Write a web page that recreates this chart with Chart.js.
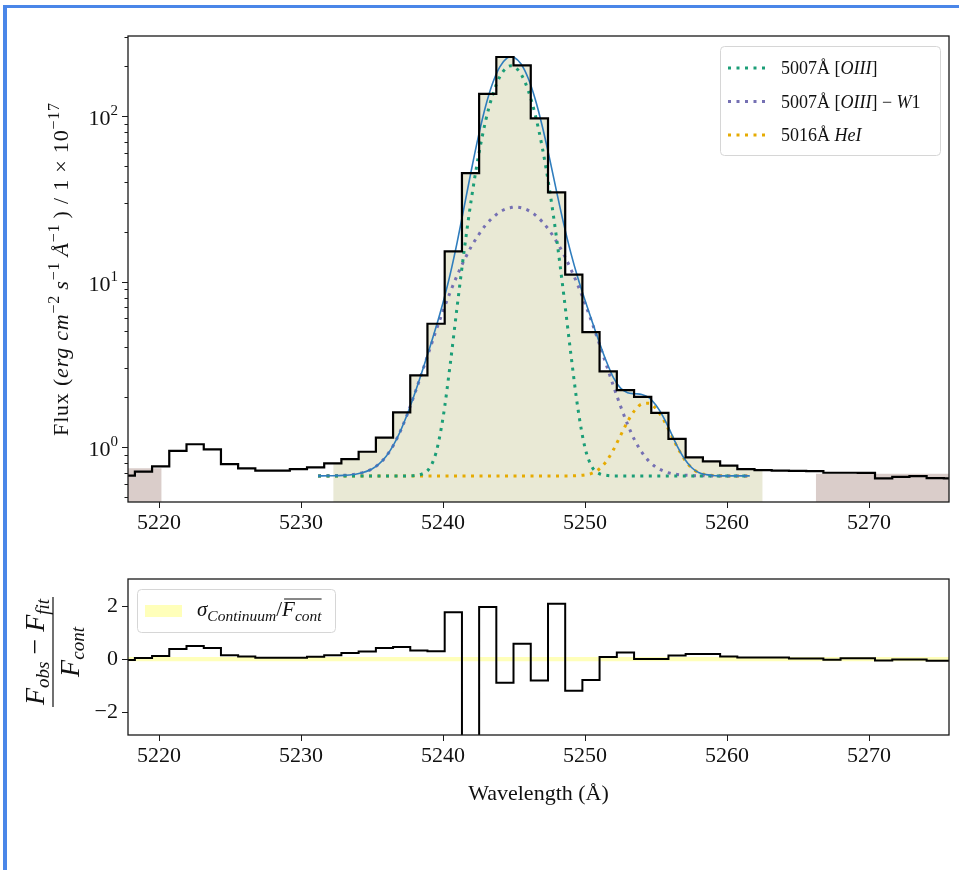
<!DOCTYPE html>
<html lang="en">
<head>
<meta charset="UTF-8">
<title>[OIII] 5007 line fit and residuals</title>
<style>
  html, body { margin: 0; background: #fff; overflow: hidden; }
  .frame { position: absolute; left: 3px; top: 5px; width: 980px; height: 900px;
           border-top: 3px solid #4a86e8; border-left: 4px solid #4a86e8; }
  .box { position: absolute; left: 0; width: 959px; }
  #top-box { top: 0; height: 560px; }
  #bottom-box { top: 560px; height: 280px; }
</style>
<script src="https://cdn.jsdelivr.net/npm/chart.js"></script>
</head>
<body>
<div class="frame"></div>
<div class="box" id="top-box"><canvas id="fluxChart"></canvas></div>
<div class="box" id="bottom-box"><canvas id="residChart"></canvas></div>
<script>
// observed spectrum, bin centres (Angstrom)
const wave = [5217.70, 5218.91, 5220.12, 5221.33, 5222.55, 5223.76, 5224.97, 5226.18, 5227.39, 5228.61,
  5229.82, 5231.03, 5232.24, 5233.45, 5234.67, 5235.88, 5237.09, 5238.30, 5239.51, 5240.73,
  5241.94, 5243.15, 5244.36, 5245.57, 5246.79, 5248.00, 5249.21, 5250.42, 5251.63, 5252.85,
  5254.06, 5255.27, 5256.48, 5257.69, 5258.91, 5260.12, 5261.33, 5262.54, 5263.75, 5264.97,
  5266.18, 5267.39, 5268.60, 5269.81, 5271.03, 5272.24, 5273.45, 5274.66, 5275.87];
const flux = [0.672, 0.71, 0.765, 0.95, 1.04, 0.97, 0.79, 0.744, 0.72, 0.72,
  0.737, 0.754, 0.798, 0.847, 0.937, 1.14, 1.62, 2.71, 5.56, 15.2,
  45.1, 136, 227, 202, 96.8, 34.5, 11.0, 4.95, 2.87, 2.21,
  2.01, 1.61, 1.12, 0.867, 0.82, 0.772, 0.737, 0.725, 0.72, 0.718,
  0.715, 0.70, 0.70, 0.698, 0.648, 0.66, 0.668, 0.65, 0.648];
const resid = [-0.03, 0.04, 0.12, 0.38, 0.50, 0.42, 0.15, 0.10, 0.05, 0.05,
  0.05, 0.09, 0.15, 0.23, 0.29, 0.42, 0.46, 0.33, 0.30, 1.77,
  -3.5, 1.97, -0.89, 0.58, -0.81, 2.09, -1.20, -0.79, 0.08, 0.25,
  0.0, 0.0, 0.14, 0.19, 0.19, 0.10, 0.06, 0.06, 0.06, 0.02,
  0.02, -0.02, 0.03, 0.03, -0.05, -0.01, -0.01, -0.06, -0.06];

// fitted model
const fitWave = [5231.2, 5232, 5233, 5234, 5235, 5235.5, 5236, 5236.5, 5237, 5237.5,
  5238, 5238.5, 5239, 5239.5, 5240, 5240.5, 5241, 5241.5, 5242, 5242.5,
  5243, 5243.5, 5244, 5244.5, 5244.8, 5245, 5245.5, 5246, 5246.5, 5247,
  5247.5, 5248, 5248.5, 5249, 5249.5, 5250, 5250.5, 5251, 5251.5, 5252,
  5252.5, 5253, 5253.5, 5254, 5254.5, 5255, 5255.5, 5256, 5256.5, 5257,
  5257.5, 5258, 5259, 5260, 5261.6];
const fitTotal = [0.67, 0.671, 0.675, 0.69, 0.738, 0.792, 0.881, 1.024, 1.25, 1.59,
  2.09, 2.81, 3.82, 5.27, 7.45, 11.0, 17.3, 28.5, 47.2, 75.8,
  114.4, 158.0, 198.0, 223.4, 228.0, 226.3, 205.9, 168.8, 125.7, 86.1,
  55.6, 34.9, 22.3, 14.9, 10.5, 7.70, 5.73, 4.31, 3.30, 2.63,
  2.27, 2.13, 2.10, 2.08, 1.99, 1.79, 1.53, 1.25, 1.01, 0.85,
  0.753, 0.702, 0.674, 0.67, 0.67];
const fitOIII = [0.67, 0.67, 0.67, 0.67, 0.67, 0.67, 0.67, 0.67, 0.67, 0.67,
  0.673, 0.686, 0.736, 0.919, 1.50, 3.12, 7.10, 15.6, 31.6, 57.4,
  93.2, 134.4, 172.4, 196.5, 200.7, 198.8, 178.7, 142.6, 101.2, 63.9,
  36.0, 18.2, 8.35, 3.67, 1.71, 0.99, 0.757, 0.691, 0.675, 0.67,
  0.67, 0.67, 0.67, 0.67, 0.67, 0.67, 0.67, 0.67, 0.67, 0.67,
  0.67, 0.67, 0.67, 0.67, 0.67];
const fitOIIIW1 = [0.67, 0.671, 0.675, 0.69, 0.738, 0.792, 0.881, 1.024, 1.25, 1.59,
  2.09, 2.79, 3.75, 5.02, 6.62, 8.59, 10.9, 13.5, 16.3, 19.1,
  21.9, 24.3, 26.3, 27.6, 28.0, 28.2, 27.9, 26.9, 25.2, 22.9,
  20.3, 17.4, 14.6, 11.9, 9.48, 7.37, 5.62, 4.22, 3.14, 2.34,
  1.77, 1.37, 1.10, 0.931, 0.822, 0.756, 0.718, 0.695, 0.683, 0.677,
  0.673, 0.671, 0.67, 0.67, 0.67];
const fitHeI = [0.67, 0.67, 0.67, 0.67, 0.67, 0.67, 0.67, 0.67, 0.67, 0.67,
  0.67, 0.67, 0.67, 0.67, 0.67, 0.67, 0.67, 0.67, 0.67, 0.67,
  0.67, 0.67, 0.67, 0.67, 0.67, 0.67, 0.67, 0.67, 0.67, 0.67,
  0.67, 0.67, 0.67, 0.67, 0.673, 0.679, 0.696, 0.737, 0.82, 0.963,
  1.173, 1.426, 1.667, 1.822, 1.838, 1.707, 1.478, 1.222, 1.0, 0.844,
  0.75, 0.702, 0.674, 0.67, 0.67];

const fitRange = [5232.27, 5262.51];
const contRanges = [[5217.8, 5220.19], [5266.25, 5275.65]];
const contLevels = [0.745, 0.69];
const sigmaCont = 0.08;

const xRange = [5217.82, 5275.63];
const fluxRange = [0.466, 304];
const residRange = [-2.87, 3.03];
const xTicks = [5220, 5230, 5240, 5250, 5260, 5270];
const fluxMajor = [1, 10, 100];
const fluxMinor = [0.5, 0.6, 0.7, 0.8, 0.9, 2, 3, 4, 5, 6, 7, 8, 9, 20, 30, 40, 50, 60, 70, 80, 90, 200, 300];
const residTicks = [-2, 0, 2];

const serif = '"Liberation Serif", "Times New Roman", "DejaVu Serif", serif';
const colOIII = '#1b9e77', colW1 = '#7570b3', colHeI = '#e6ab02', colFit = '#2f7dbd';
const colSigma = 'rgba(255, 255, 130, 0.55)';

function pts(xs, ys) {
  return xs.map((x, i) => ({x: x, y: ys[i]}));
}

// flux of the bin whose centre is closest to x
function binFlux(x) {
  let best = 0;
  wave.forEach((w, i) => { if (Math.abs(w - x) < Math.abs(wave[best] - x)) best = i; });
  return flux[best];
}

const fitFill = [{x: fitRange[0], y: binFlux(fitRange[0])}]
  .concat(pts(wave, flux).filter(p => p.x > fitRange[0] && p.x < fitRange[1]))
  .concat([{x: fitRange[1], y: binFlux(fitRange[1])}]);

function font(size, italic) {
  return (italic ? 'italic ' : '') + size + 'px ' + serif;
}

// parts: [text, size, italic, rise]
function drawRich(ctx, parts, x, y, align, angle, spacing) {
  ctx.save();
  ctx.translate(x, y);
  if (angle) ctx.rotate(angle);
  if (spacing && 'letterSpacing' in ctx) ctx.letterSpacing = spacing + 'px';
  ctx.textAlign = 'left';
  ctx.textBaseline = 'alphabetic';
  let w = 0;
  parts.forEach(p => { ctx.font = font(p[1], p[2]); w += ctx.measureText(p[0]).width; });
  let cx = align === 'center' ? -w / 2 : (align === 'right' ? -w : 0);
  parts.forEach(p => {
    ctx.font = font(p[1], p[2]);
    ctx.fillText(p[0], cx, -(p[3] || 0));
    cx += ctx.measureText(p[0]).width;
  });
  ctx.restore();
  return w;
}

function legendFrame(ctx, x, y, w, h) {
  ctx.beginPath();
  if (ctx.roundRect) ctx.roundRect(x + 0.5, y + 0.5, w, h, 4);
  else ctx.rect(x + 0.5, y + 0.5, w, h);
  ctx.fillStyle = 'rgba(255,255,255,0.85)';
  ctx.fill();
  ctx.strokeStyle = '#d6d6d6';
  ctx.lineWidth = 1;
  ctx.stroke();
}

// box around the plot and outward tick marks
function axesFrame(yMajor, yMinor) {
  return {
    id: 'axesFrame',
    afterDatasetsDraw(chart) {
      const ctx = chart.ctx, a = chart.chartArea, sx = chart.scales.x, sy = chart.scales.y;
      const seg = (x1, y1, x2, y2) => { ctx.beginPath(); ctx.moveTo(x1, y1); ctx.lineTo(x2, y2); ctx.stroke(); };
      ctx.save();
      ctx.strokeStyle = '#1a1a1a';
      ctx.lineWidth = 1;
      xTicks.forEach(v => {
        const x = Math.round(sx.getPixelForValue(v)) + 0.5;
        seg(x, a.bottom, x, a.bottom + 6);
      });
      yMajor.forEach(v => {
        const y = Math.round(sy.getPixelForValue(v)) + 0.5;
        seg(a.left - 6, y, a.left, y);
      });
      yMinor.forEach(v => {
        const y = Math.round(sy.getPixelForValue(v)) + 0.5;
        seg(a.left - 3.5, y, a.left, y);
      });
      ctx.lineWidth = 1.3;
      ctx.strokeRect(a.left, a.top, a.right - a.left, a.bottom - a.top);
      ctx.restore();
    }
  };
}

const fluxTitle = [['Flux (', 22], ['erg', 22, true], [' ', 22], ['cm', 22, true], ['\u22122', 16, false, 9],
  ['\u2009', 22], ['s', 22, true], ['\u22121', 16, false, 9], ['\u2009', 22], ['\u00c5', 22, true],
  ['\u22121', 16, false, 9], ['\u2009) / 1 \u00d7 10', 22], ['\u221217', 16, false, 9]];

const legendRows = [
  {ds: 2, parts: [['5007\u00c5 [', 18], ['OIII', 18, true], [']', 18]]},
  {ds: 3, parts: [['5007\u00c5 [', 18], ['OIII', 18, true], ['] \u2212 ', 18], ['W', 18, true], ['1', 18]]},
  {ds: 4, parts: [['5016\u00c5 ', 18], ['HeI', 18, true]]}
];

const fluxText = {
  id: 'fluxText',
  afterDraw(chart) {
    const ctx = chart.ctx, a = chart.chartArea, sy = chart.scales.y;
    ctx.save();
    ctx.fillStyle = '#111';
    fluxMajor.forEach(v => {
      const y = sy.getPixelForValue(v);
      drawRich(ctx, [['10', 22], [String(Math.round(Math.log10(v))), 15, false, 10]], a.left - 10, y + 9, 'right');
    });
    drawRich(ctx, fluxTitle, 68, (a.top + a.bottom) / 2, 'center', -Math.PI / 2, 0.8);

    // legend
    const bx = a.right - 229, by = a.top + 10;
    legendFrame(ctx, bx, by, 220, 109);
    legendRows.forEach((row, i) => {
      const ds = chart.data.datasets[row.ds];
      const y = by + 22 + i * 33.5;
      ctx.save();
      ctx.strokeStyle = ds.borderColor;
      ctx.lineWidth = ds.borderWidth;
      ctx.setLineDash(ds.borderDash);
      ctx.beginPath();
      ctx.moveTo(bx + 8, y);
      ctx.lineTo(bx + 50, y);
      ctx.stroke();
      ctx.restore();
      ctx.fillStyle = '#111';
      drawRich(ctx, row.parts, bx + 61, y + 6, 'left');
    });
    ctx.restore();
  }
};

const residText = {
  id: 'residText',
  afterDraw(chart) {
    const ctx = chart.ctx, a = chart.chartArea;
    ctx.save();
    ctx.fillStyle = '#111';
    ctx.strokeStyle = '#111';
    // y title: (F_obs - F_fit) / F_cont
    ctx.translate(53, (a.top + a.bottom) / 2 - 5);
    ctx.rotate(-Math.PI / 2);
    const w = drawRich(ctx, [['F', 28, true], ['obs', 19, true, -5], [' \u2212 ', 28], ['F', 28, true], ['fit', 19, true, -5]], 0, -9, 'center');
    drawRich(ctx, [['F', 28, true], ['cont', 19, true, -5]], 0, 26, 'center');
    ctx.lineWidth = 1.2;
    ctx.beginPath();
    ctx.moveTo(-w / 2 - 2, 0);
    ctx.lineTo(w / 2 + 2, 0);
    ctx.stroke();
    ctx.restore();

    // legend
    ctx.save();
    const bx = a.left + 9, by = a.top + 10;
    legendFrame(ctx, bx, by, 198, 43);
    ctx.fillStyle = colSigma;
    ctx.fillRect(bx + 8, by + 16, 37, 12);
    ctx.fillStyle = '#111';
    const base = by + 27;
    let x = bx + 60;
    x += drawRich(ctx, [['\u03c3', 21, true], ['Continuum', 15.5, true, -5], ['/', 21]], x, base, 'left');
    const wc = drawRich(ctx, [['F', 21, true], ['cont', 15.5, true, -5]], x, base, 'left');
    ctx.strokeStyle = '#111';
    ctx.lineWidth = 1;
    ctx.beginPath();
    ctx.moveTo(x + 2, base - 17);
    ctx.lineTo(x + wc, base - 17);
    ctx.stroke();
    ctx.restore();
  }
};

const tickFont = {family: serif, size: 22};
const lineDefaults = {pointRadius: 0, fill: false, showLine: true};

new Chart(document.getElementById('fluxChart'), {
  type: 'line',
  data: {
    datasets: [
      Object.assign({label: 'data', data: pts(wave, flux), stepped: 'middle', borderColor: '#000', borderWidth: 2.2, order: 0}, lineDefaults),
      Object.assign({label: 'fit', data: pts(fitWave, fitTotal), borderColor: colFit, borderWidth: 1.6, cubicInterpolationMode: 'monotone', order: 1}, lineDefaults),
      Object.assign({label: '5007 [OIII]', data: pts(fitWave, fitOIII), borderColor: colOIII, borderWidth: 3, borderDash: [3, 5.5], cubicInterpolationMode: 'monotone', order: 2}, lineDefaults),
      Object.assign({label: '5007 [OIII] - W1', data: pts(fitWave, fitOIIIW1), borderColor: colW1, borderWidth: 3, borderDash: [3, 5.5], cubicInterpolationMode: 'monotone', order: 3}, lineDefaults),
      Object.assign({label: '5016 HeI', data: pts(fitWave, fitHeI), borderColor: colHeI, borderWidth: 3, borderDash: [3, 5.5], cubicInterpolationMode: 'monotone', order: 4}, lineDefaults),
      {label: 'fit region', data: fitFill, stepped: 'middle', pointRadius: 0, borderWidth: 0, borderColor: 'rgba(0,0,0,0)', backgroundColor: '#e9e9d5', fill: 'start', order: 10},
      {label: 'continuum 1', data: [{x: contRanges[0][0], y: contLevels[0]}, {x: contRanges[0][1], y: contLevels[0]}], pointRadius: 0, borderWidth: 0, borderColor: 'rgba(0,0,0,0)', backgroundColor: '#dacdca', fill: 'start', order: 11},
      {label: 'continuum 2', data: [{x: contRanges[1][0], y: contLevels[1]}, {x: contRanges[1][1], y: contLevels[1]}], pointRadius: 0, borderWidth: 0, borderColor: 'rgba(0,0,0,0)', backgroundColor: '#dacdca', fill: 'start', order: 12}
    ]
  },
  options: {
    responsive: true,
    maintainAspectRatio: false,
    animation: false,
    layout: {padding: {top: 36, right: 10, bottom: 0, left: 0}},
    plugins: {legend: {display: false}, tooltip: {enabled: false}},
    scales: {
      x: {
        type: 'linear', min: xRange[0], max: xRange[1],
        grid: {display: false, drawTicks: false}, border: {display: false},
        afterBuildTicks: s => { s.ticks = xTicks.map(v => ({value: v})); },
        afterFit: s => { s.height = 58; s.paddingLeft = 0; s.paddingRight = 0; },
        ticks: {font: tickFont, color: '#111', padding: 8, maxRotation: 0, autoSkip: false, callback: v => String(v)}
      },
      y: {
        type: 'logarithmic', min: fluxRange[0], max: fluxRange[1],
        grid: {display: false, drawTicks: false}, border: {display: false},
        ticks: {display: false},
        afterFit: s => { s.width = 128; s.paddingTop = 0; s.paddingBottom = 0; }
      }
    }
  },
  plugins: [axesFrame(fluxMajor, fluxMinor), fluxText]
});

new Chart(document.getElementById('residChart'), {
  type: 'line',
  data: {
    datasets: [
      Object.assign({label: 'residual', data: pts(wave, resid), stepped: 'middle', borderColor: '#000', borderWidth: 2, order: 0}, lineDefaults),
      {label: 'sigma', data: [{x: xRange[0], y: sigmaCont}, {x: xRange[1], y: sigmaCont}], pointRadius: 0, borderWidth: 0, borderColor: 'rgba(0,0,0,0)', backgroundColor: colSigma, fill: '+1', order: 5},
      {label: '-sigma', data: [{x: xRange[0], y: -sigmaCont}, {x: xRange[1], y: -sigmaCont}], pointRadius: 0, borderWidth: 0, borderColor: 'rgba(0,0,0,0)', fill: false, order: 6}
    ]
  },
  options: {
    responsive: true,
    maintainAspectRatio: false,
    animation: false,
    layout: {padding: {top: 19, right: 10, bottom: 0, left: 0}},
    plugins: {legend: {display: false}, tooltip: {enabled: false}},
    scales: {
      x: {
        type: 'linear', min: xRange[0], max: xRange[1],
        grid: {display: false, drawTicks: false}, border: {display: false},
        afterBuildTicks: s => { s.ticks = xTicks.map(v => ({value: v})); },
        afterFit: s => { s.height = 105; s.paddingLeft = 0; s.paddingRight = 0; },
        ticks: {font: tickFont, color: '#111', padding: 8, maxRotation: 0, autoSkip: false, callback: v => String(v)},
        title: {display: true, text: 'Wavelength (\u00c5)', font: tickFont, color: '#111', padding: {top: 0, bottom: 33}}
      },
      y: {
        type: 'linear', min: residRange[0], max: residRange[1],
        grid: {display: false, drawTicks: false}, border: {display: false},
        afterBuildTicks: s => { s.ticks = residTicks.map(v => ({value: v})); },
        afterFit: s => { s.width = 128; s.paddingTop = 0; s.paddingBottom = 0; },
        ticks: {font: tickFont, color: '#111', padding: 10, callback: v => (v < 0 ? '\u2212' + (-v) : String(v))}
      }
    }
  },
  plugins: [axesFrame(residTicks, []), residText]
});
</script>
</body>
</html>
